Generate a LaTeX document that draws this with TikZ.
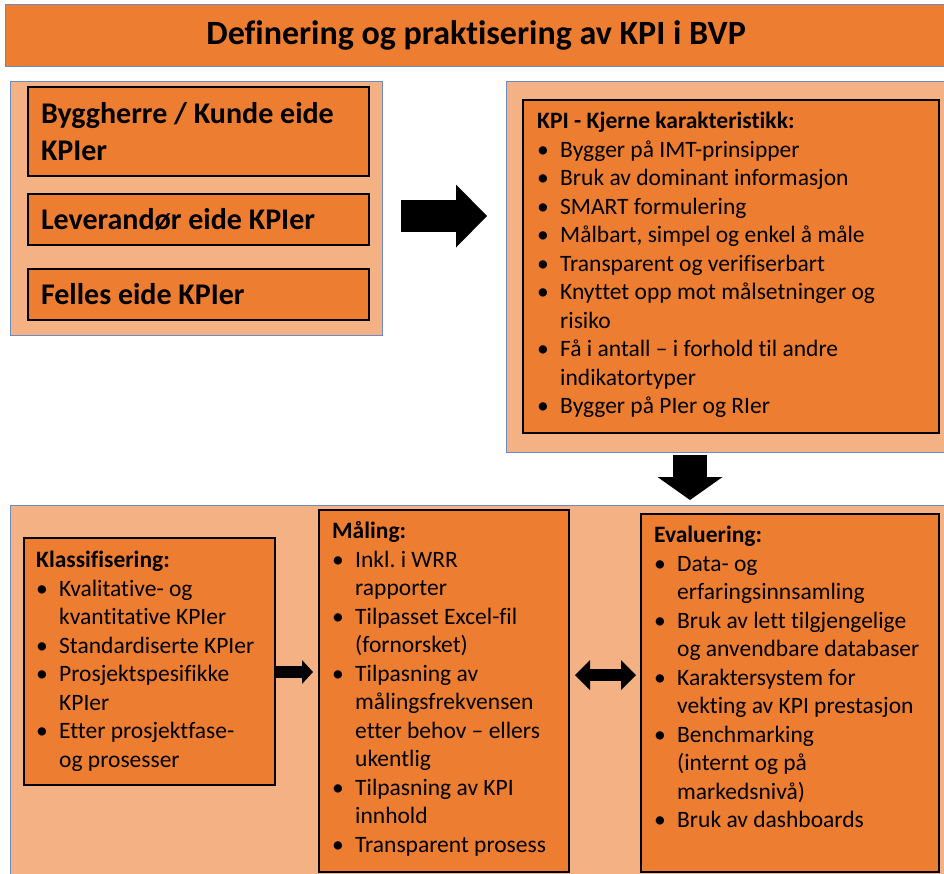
\documentclass[tikz,border=0pt]{standalone}
\usepackage{fontspec}
\setmainfont{Carlito}[Ligatures={TeX,NoCommon}]
\usetikzlibrary{arrows.meta, positioning, calc}

\definecolor{oransje}{HTML}{ED7D31}
\definecolor{lysoransje}{HTML}{F4B183}
\definecolor{ramme}{HTML}{6A8AC6}

% bullet line with hanging indent
\newcommand{\punkt}[1]{\par\hangindent=23pt\hangafter=1\noindent\makebox[23pt][l]{\textbullet}#1}

\begin{document}
\frenchspacing
\begin{tikzpicture}[
    x=1pt, y=-1pt,
    panel/.style={draw=ramme, line width=1.2pt, fill=lysoransje, anchor=north west, inner sep=0pt},
    kpibox/.style={draw=black, line width=2pt, fill=oransje, anchor=north west, inner sep=0pt},
    eiebox/.style={kpibox, minimum width=341pt, text width=315pt, inner xsep=13pt, align=flush left,
                   font=\fontsize{30}{37}\selectfont\bfseries},
    liste/.style={anchor=north west, inner sep=0pt, align=flush left, text width=#1,
                  font=\fontsize{23.5}{28.5}\selectfont},
    blokkpil/.style={line width=#1, line cap=butt},
]
\useasboundingbox (0,0) rectangle (944,873);

% Title
\node[draw=ramme, line width=1.2pt, fill=oransje, anchor=north west, inner sep=0pt,
      minimum width=941pt, minimum height=62pt, font=\fontsize{34}{40}\selectfont\bfseries]
      (tittel) at (5,4) {Definering og praktisering av KPI i BVP};

% Row 1: owners of the KPIs
\node[panel, minimum width=372pt, minimum height=254pt] (eiere) at (10,81) {};
\node[eiebox, minimum height=89pt] (byggherre) at (27,86) {Byggherre / Kunde eide\\KPIer};
\node[eiebox, minimum height=51pt] (leverandor) at (27,193) {Leverandør eide KPIer};
\node[eiebox, minimum height=51pt] (felles) at (27,268) {Felles eide KPIer};

% Row 1: core characteristics
\node[panel, minimum width=442pt, minimum height=371pt] (kjerneramme) at (506,81) {};
\node[kpibox, minimum width=416pt, minimum height=333pt] (kjerne) at (522,99) {};
\node[liste=402pt] (kjernetekst) at ($(kjerne.north west)+(15,7.5)$) {%
  \rule{0pt}{22pt}\textbf{KPI - Kjerne karakteristikk:}
  \punkt{Bygger på IMT-prinsipper}
  \punkt{Bruk av dominant informasjon}
  \punkt{SMART formulering}
  \punkt{Målbart, simpel og enkel å måle}
  \punkt{Transparent og verifiserbart}
  \punkt{Knyttet opp mot målsetninger og\newline risiko}
  \punkt{Få i antall -- i forhold til andre\newline indikatortyper}
  \punkt{Bygger på PIer og RIer}\par};

\coordinate (pilA1) at (401,216);
\coordinate (pilA2) at (487,216);
\draw[blokkpil=32pt, -{Triangle[length=31pt, width=63pt, line width=0pt]}] (pilA1) -- (pilA2);

\coordinate (pilB1) at (690,455);
\coordinate (pilB2) at (690,500);
\draw[blokkpil=34pt, -{Triangle[length=23pt, width=65pt, line width=0pt]}] (pilB1) -- (pilB2);

% Row 2: classification, measuring, evaluation
\node[panel, minimum width=938pt, minimum height=373pt] (prosess) at (10,505) {};

\node[kpibox, minimum width=251pt, minimum height=247pt] (klass) at (23,537) {};
\node[liste=251pt] (klasstekst) at ($(klass.north west)+(13,8.5)$) {%
  \rule{0pt}{22pt}\textbf{Klassifisering:}
  \punkt{Kvalitative- og\newline kvantitative KPIer}
  \punkt{Standardiserte KPIer}
  \punkt{Prosjektspesifikke\newline KPIer}
  \punkt{Etter prosjektfase-\newline og prosesser}\par};

\node[kpibox, minimum width=250pt, minimum height=362pt] (maaling) at (318,509) {};
\node[liste=250pt] (maalingtekst) at ($(maaling.north west)+(14,7.5)$) {%
  \rule{0pt}{22pt}\textbf{Måling:}
  \punkt{Inkl. i WRR\newline rapporter}
  \punkt{Tilpasset Excel-fil\newline (fornorsket)}
  \punkt{Tilpasning av\newline målingsfrekvensen\newline etter behov -- ellers\newline ukentlig}
  \punkt{Tilpasning av KPI\newline innhold}
  \punkt{Transparent prosess}\par};

\node[kpibox, minimum width=298pt, minimum height=358pt] (eval) at (640,513) {};
\node[liste=298pt] (evaltekst) at ($(eval.north west)+(14,7.5)$) {%
  \rule{0pt}{22pt}\textbf{Evaluering:}
  \punkt{Data- og\newline erfaringsinnsamling}
  \punkt{Bruk av lett tilgjengelige\newline og anvendbare databaser}
  \punkt{Karaktersystem for\newline vekting av KPI prestasjon}
  \punkt{Benchmarking\newline (internt og på\newline markedsnivå)}
  \punkt{Bruk av dashboards}\par};

\coordinate (pilC1) at (274,672);
\coordinate (pilC2) at (313,672);
\draw[blokkpil=12pt, -{Triangle[length=11pt, width=24pt, line width=0pt]}] (pilC1) -- (pilC2);

\coordinate (pilD1) at (575,675);
\coordinate (pilD2) at (636,675);
\draw[blokkpil=12pt, {Triangle[length=15pt, width=30pt, line width=0pt]}-{Triangle[length=15pt, width=30pt, line width=0pt]}] (pilD1) -- (pilD2);

\end{tikzpicture}
\end{document}
